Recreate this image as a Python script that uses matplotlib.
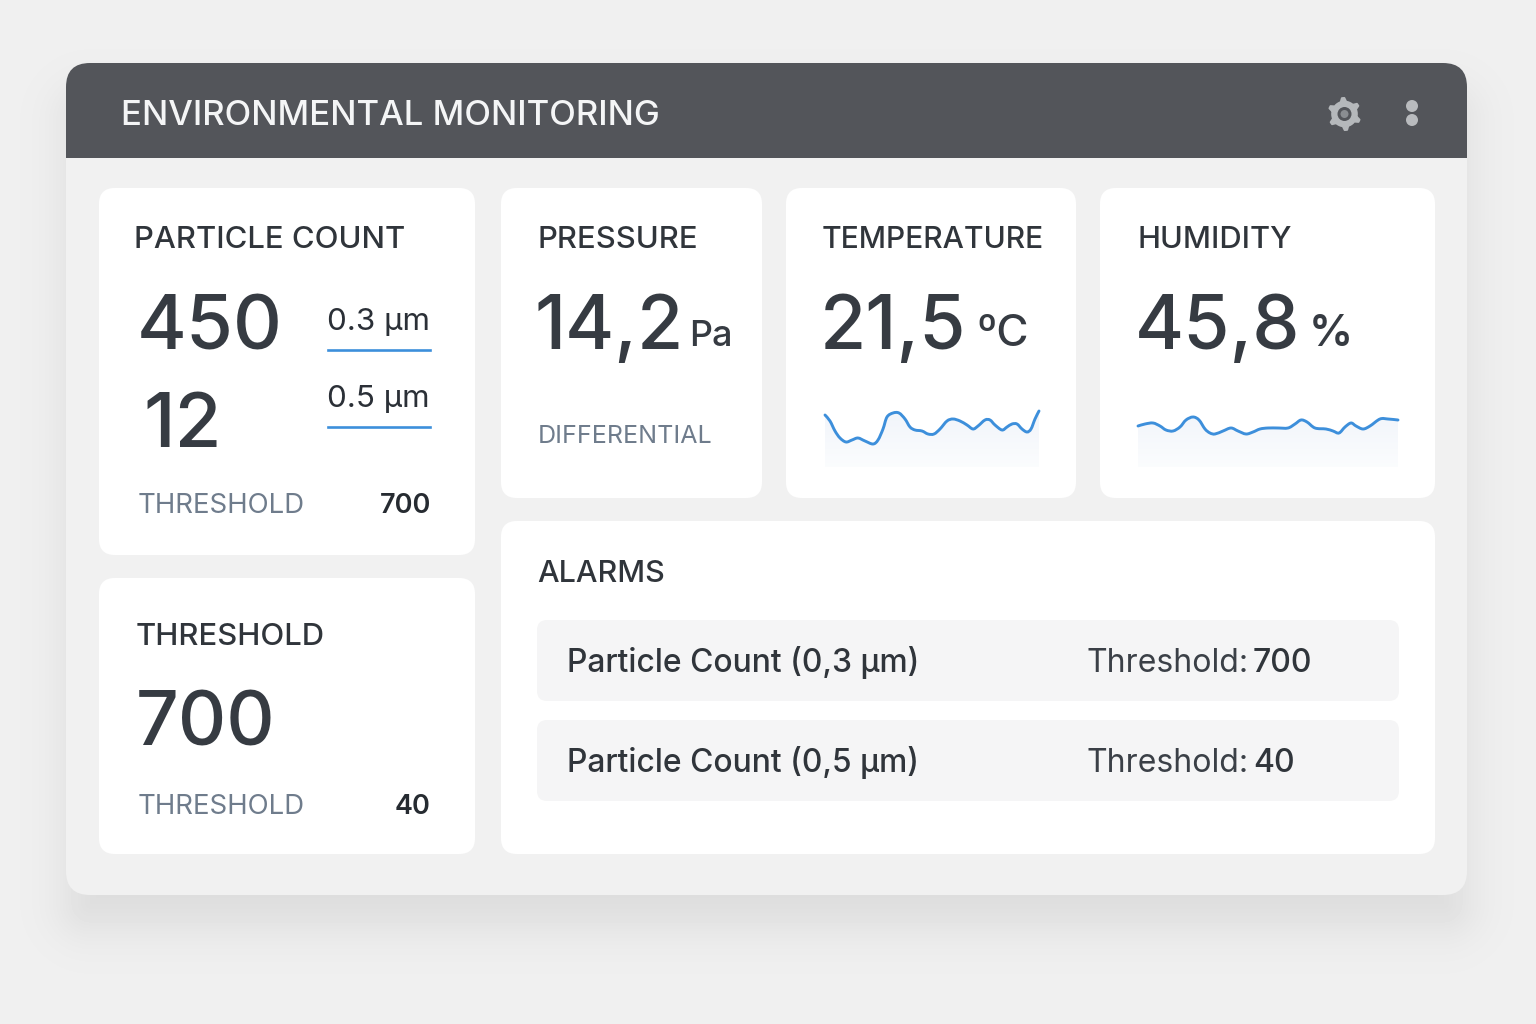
import numpy as np
import matplotlib
matplotlib.use("Agg")
import matplotlib.pyplot as plt
from matplotlib.patches import FancyBboxPatch, Rectangle, Circle, PathPatch
from matplotlib.path import Path

plt.rcParams['font.family'] = ['Inter', 'DejaVu Sans']

# sparkline readings, pixels above the bottom of the fill
temp_x = [0, 5, 10, 15, 21, 27, 33, 40, 48, 53, 58, 62, 68, 74, 80, 85, 90, 97, 103, 109, 115, 122, 128, 135, 142, 148,
          153, 160, 165, 170, 177, 182, 187, 192, 197, 202, 206, 210, 214]
temp_y = [52, 46, 36, 29, 25, 27, 29, 26, 23, 27, 38, 50, 54, 54, 48, 40, 37, 36, 33, 33, 38, 46, 48, 46, 42, 38,
          41, 47, 47, 42, 37, 40, 43, 43, 38, 35, 38, 48, 56]
hum_x = [0, 7, 15, 22, 28, 35, 42, 48, 55, 61, 67, 72, 77, 85, 93, 100, 108, 115, 122, 130, 140, 150, 157, 163, 169,
         177, 188, 195, 201, 207, 213, 218, 225, 232, 242, 250, 260]
hum_y = [41, 43, 44, 41, 37, 36, 40, 47, 50, 47, 38, 34, 33, 36, 39, 36, 33, 35, 38, 39, 39, 39, 43, 47, 45,
         39, 38, 36, 34, 40, 44, 41, 38, 41, 48, 48, 47]

ink = "#363b42"
grey = "#6f7c8c"
blue = "#3d8fdb"

fig = plt.figure(figsize=(15.36, 10.24), dpi=100)
ax = fig.add_axes([0, 0, 1, 1])
ax.set_xlim(0, 1536)
ax.set_ylim(1024, 0)
ax.axis("off")


def round_rect(x0, y0, x1, y1, r, color, z=1, ec="none"):
    p = FancyBboxPatch((x0 + r, y0 + r), x1 - x0 - 2 * r, y1 - y0 - 2 * r, boxstyle="round,pad=%d,rounding_size=%d" % (r, r),
                       fc=color, ec=ec, lw=1, zorder=z, mutation_aspect=1)
    ax.add_patch(p)
    return p


def label(x, y, s, px, color=ink, weight="normal", ha="left"):
    return ax.text(x, y, s, fontsize=px * 0.72, color=color, fontweight=weight, ha=ha, va="baseline", zorder=5)


# page background with the panel's soft shadow
yy, xx = np.mgrid[0:1024, 0:1536]
qx = np.abs(xx - 766.5) - (700.5 - 24)
qy = np.abs(yy - 511) - (416 - 24)
dist = np.hypot(np.maximum(qx, 0), np.maximum(qy, 0)) + np.minimum(np.maximum(qx, qy), 0) - 24
shadow = 0.085 / (1 + np.exp(dist / 15.0))
bg = 0.941 * (1 - shadow)
ax.imshow(bg, cmap="gray", vmin=0, vmax=1, extent=(0, 1536, 1024, 0), aspect="auto", zorder=0)
ax.set_xlim(0, 1536)
ax.set_ylim(1024, 0)

# panel and header
round_rect(66, 63, 1467, 895, 24, "#f1f1f1", z=1)
head = round_rect(66, 63, 1467, 300, 24, "#53555a", z=2)
head.set_clip_path(Rectangle((0, 0), 1536, 157.5, transform=ax.transData))
label(121, 125, "ENVIRONMENTAL MONITORING", 34.8, "#f4f5f6", "medium")

# gear and menu dots
offset = np.linspace(-0.21, 0.83, 8)
pts = []
for k in range(6):
    for o, r in zip(offset, [12.3, 16, 16, 12.3, 12.3, 12.3, 12.3, 12.3]):
        t = k * np.pi / 3 - np.pi / 2 + o - 0.1
        pts.append((1344.5 + r * np.cos(t), 114 + r * np.sin(t)))
ax.add_patch(PathPatch(Path(pts + [pts[0]], closed=True), fc="#b5b8bb", ec="#b5b8bb", lw=1.5, joinstyle="round", zorder=4))
ax.add_patch(Circle((1344.5, 114), 7, fc="#53555a", ec="none", zorder=5))
ax.add_patch(Circle((1344.5, 114), 4, fc="#8a8d91", ec="none", zorder=5))
for cy in (106, 120):
    ax.add_patch(Circle((1412, cy), 6, fc="#b9bbbe", ec="none", zorder=4))

# cards
for box in [(99, 188, 475, 555), (99, 578, 475, 854), (501, 188, 762, 498), (786, 188, 1076, 498),
            (1100, 188, 1435, 498), (501, 521, 1435, 854)]:
    round_rect(*box, 16, "white", z=3)

# particle count
label(134, 248, "PARTICLE COUNT", 31, "#30353b", "medium")
label(137, 349, "450", 76, weight="medium")
label(143, 447, "12", 76, weight="medium")
label(327, 330, "0.3 µm", 31.4, "#2b3037")
label(327, 407, "0.5 µm", 31.4, "#2b3037")
ax.plot([328, 430], [350, 350], color=blue, lw=1.9, zorder=5)
ax.plot([328, 430], [427, 427], color=blue, lw=1.9, zorder=5)
label(138, 513, "THRESHOLD", 27.6, grey)
label(431, 513, "700", 27, "#262b31", "semibold", ha="right")

# threshold
label(136, 645, "THRESHOLD", 31, "#30353b", "medium")
label(136, 745, "700", 75, weight="medium")
label(138, 814, "THRESHOLD", 27.6, grey)
label(431, 814, "40", 27, "#262b31", "semibold", ha="right")

# pressure, temperature, humidity
label(537, 248, "PRESSURE", 31, "#30353b", "medium")
label(535, 349, "14,2", 75, weight="medium")
label(689, 346, "Pa", 36, weight="medium")
label(538, 443, "DIFFERENTIAL", 25, grey)
label(822, 248, "TEMPERATURE", 30, "#30353b", "medium")
label(820, 349, "21,5", 75, weight="medium")
label(976, 346, "ºC", 44, weight="medium")
label(1138, 248, "HUMIDITY", 30.8, "#30353b", "medium")
label(1135, 349, "45,8", 75, weight="medium")
label(1309, 346, "%", 44, weight="semibold")


def smooth_path(xs, ys):
    # Catmull-Rom through the read points, as bezier segments
    p = np.column_stack([xs, ys]).astype(float)
    verts = [p[0]]
    codes = [Path.MOVETO]
    for i in range(len(p) - 1):
        a = p[max(i - 1, 0)]
        d = p[min(i + 2, len(p) - 1)]
        verts += [p[i] + (p[i + 1] - a) / 6, p[i + 1] - (d - p[i]) / 6, p[i + 1]]
        codes += [Path.CURVE4] * 3
    return verts, codes


def sparkline(x0, x1, xs, ys):
    sub = fig.add_axes([x0 / 1536, 1 - 467 / 1024, (x1 - x0) / 1536, 65 / 1024], zorder=6)
    sub.set_xlim(min(xs), max(xs))
    sub.set_ylim(0, 65)
    sub.axis("off")
    t = np.linspace(0, 1, 64).reshape(-1, 1)
    rgb = np.dstack([0.94 + 0.045 * t, 0.955 + 0.035 * t, 0.98 + 0.015 * t])
    im = sub.imshow(rgb, extent=(min(xs), max(xs), 0, 65), aspect="auto", origin="upper", zorder=1)
    verts, codes = smooth_path(xs, ys)
    area = Path(verts + [(max(xs), 0), (min(xs), 0), verts[0]],
                codes + [Path.LINETO, Path.LINETO, Path.LINETO])
    im.set_clip_path(area, transform=sub.transData)
    sub.add_patch(PathPatch(Path(verts, codes), fc="none", ec=blue, lw=2.1, capstyle="round", clip_on=False, zorder=2))
    sub.set_xlim(min(xs), max(xs))
    sub.set_ylim(0, 65)


sparkline(825, 1039, temp_x, temp_y)
sparkline(1138, 1398, hum_x, hum_y)

# alarms
label(537, 582, "ALARMS", 30.5, "#30353b", "medium")
for top, name, limit in [(620, "Particle Count (0,3 µm)", "700"), (720, "Particle Count (0,5 µm)", "40")]:
    round_rect(537, top, 1399, top + 81, 10, "#f5f5f6", z=4)
    label(567, top + 52, name, 31.8, "#30353b", "medium")
    label(1087, top + 52, "Threshold:", 32, "#3b4047")
    label(1253, top + 52, limit, 32, "#30353b", "medium")

fig.savefig("out.png", dpi=100)
